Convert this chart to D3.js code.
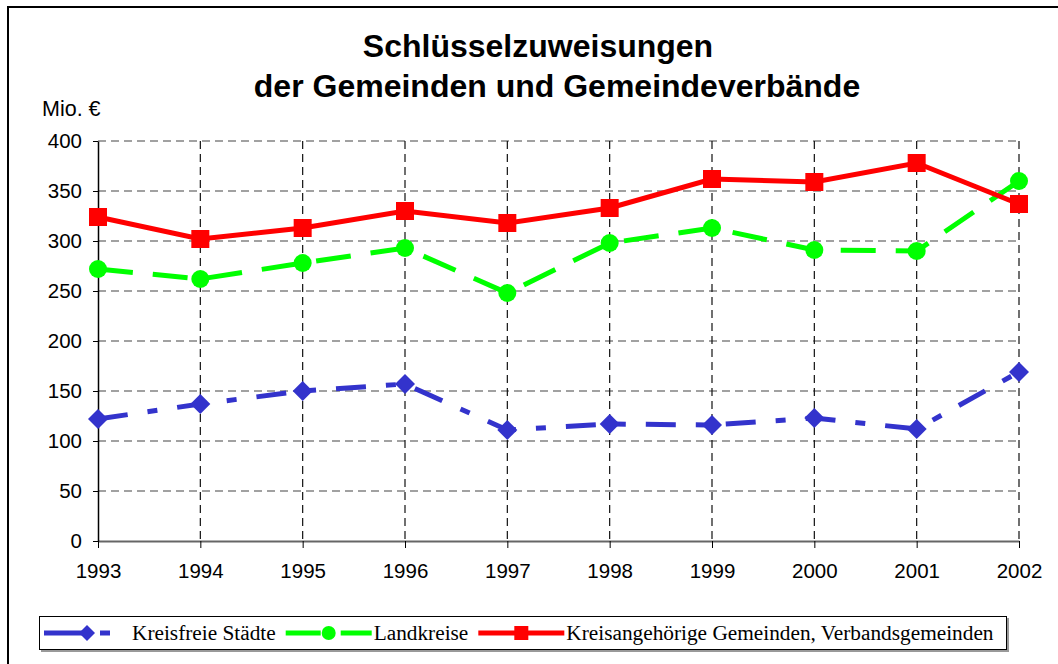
<!DOCTYPE html>
<html>
<head>
<meta charset="utf-8">
<script src="https://cdn.jsdelivr.net/npm/d3@7"></script>
<style>
  body { margin: 0; background: #fff; }
  svg { display: block; }
</style>
</head>
<body>
<div class="container"></div>
<script>
const years = [1993, 1994, 1995, 1996, 1997, 1998, 1999, 2000, 2001, 2002]
const kreisfreieStaedte = [122, 137, 150, 157, 111, 117, 116, 123, 112, 169]
const landkreise = [272, 262, 278, 293, 248, 298, 313, 291, 290, 360]
const kreisangehoerige = [324, 302, 313, 330, 318, 333, 362, 359, 378, 337]
const yTicks = [0, 50, 100, 150, 200, 250, 300, 350, 400]
const seriesNames = ['Kreisfreie Städte', 'Landkreise', 'Kreisangehörige Gemeinden, Verbandsgemeinden']

const w = 1058
const h = 664
const plotLeft = 98
const plotRight = 1019
const plotTop = 141
const plotBottom = 541

const series = [
  { name: seriesNames[0], values: kreisfreieStaedte, color: '#3333cc', dash: '30 20 10 20', marker: 'diamond' },
  { name: seriesNames[1], values: landkreise, color: '#00ff00', dash: '35 20', marker: 'circle' },
  { name: seriesNames[2], values: kreisangehoerige, color: '#ff0000', dash: null, marker: 'square' }
]

const svg = d3.select('.container')
  .append('svg')
  .attr('width', w)
  .attr('height', h)

// outer frame
svg.append('rect')
  .attr('x', 8).attr('y', 7)
  .attr('width', 1100).attr('height', 700)
  .attr('fill', 'none')
  .attr('stroke', '#000')
  .attr('stroke-width', 2)

const xScale = d3.scalePoint()
  .domain(years)
  .range([plotLeft, plotRight])

const yScale = d3.scaleLinear()
  .domain([0, 400])
  .range([plotBottom, plotTop])

// grid
svg.append('g')
  .selectAll('line')
  .data(yTicks.filter(d => d > 0))
  .join('line')
  .attr('x1', plotLeft).attr('x2', plotRight)
  .attr('y1', d => yScale(d)).attr('y2', d => yScale(d))
  .attr('stroke', '#444')
  .attr('stroke-width', 1.2)
  .attr('stroke-dasharray', '8 5')

svg.append('g')
  .selectAll('line')
  .data(years.slice(1))
  .join('line')
  .attr('x1', d => xScale(d)).attr('x2', d => xScale(d))
  .attr('y1', plotTop).attr('y2', plotBottom)
  .attr('stroke', '#111')
  .attr('stroke-width', 1.2)
  .attr('stroke-dasharray', '8 5')

const xAxis = d3.axisBottom(xScale)
  .tickSizeInner(7)
  .tickSizeOuter(0)
  .tickPadding(15)

const yAxis = d3.axisLeft(yScale)
  .tickValues(yTicks)
  .tickSizeInner(5)
  .tickSizeOuter(0)
  .tickPadding(11)

const gx = svg.append('g')
  .attr('transform', `translate(0, ${plotBottom})`)
  .call(xAxis)
gx.select('.domain').attr('stroke', '#666').attr('stroke-width', 2)
gx.selectAll('.tick line').attr('stroke', '#000')

const gy = svg.append('g')
  .attr('transform', `translate(${plotLeft}, 0)`)
  .call(yAxis)
gy.select('.domain').attr('stroke', '#000').attr('stroke-width', 1.5)
gy.selectAll('.tick line').attr('stroke', '#000')

svg.selectAll('.tick text')
  .attr('font-family', '"Liberation Sans", Arial, sans-serif')
  .attr('font-size', 20.5)
  .attr('fill', '#000')

// axis unit
svg.append('text')
  .text('Mio. €')
  .attr('x', 42)
  .attr('y', 116)
  .attr('font-family', '"Liberation Sans", Arial, sans-serif')
  .attr('font-size', 21.5)

// title
const title = svg.append('text')
  .attr('text-anchor', 'middle')
  .attr('font-family', '"Liberation Sans", Arial, sans-serif')
  .attr('font-weight', 'bold')
  .attr('font-size', 32)
title.append('tspan').attr('x', 538).attr('y', 57).text('Schlüsselzuweisungen')
title.append('tspan').attr('x', 557).attr('y', 97).text('der Gemeinden und Gemeindeverbände')

function drawMarker(g, type, x, y, size, color) {
  if (type === 'square') {
    g.append('rect')
      .attr('x', x - size / 2).attr('y', y - size / 2)
      .attr('width', size).attr('height', size)
      .attr('fill', color)
  } else if (type === 'circle') {
    g.append('circle')
      .attr('cx', x).attr('cy', y).attr('r', size / 2)
      .attr('fill', color)
  } else {
    const r = size / 2 + 1
    g.append('path')
      .attr('d', `M${x},${y - r}L${x + r},${y}L${x},${y + r}L${x - r},${y}Z`)
      .attr('fill', color)
  }
}

const line = d3.line()
  .x((d, i) => xScale(years[i]))
  .y(d => yScale(d))

series.forEach(s => {
  const g = svg.append('g')
  g.append('path')
    .datum(s.values)
    .attr('d', line)
    .attr('fill', 'none')
    .attr('stroke', s.color)
    .attr('stroke-width', 5)
    .attr('stroke-dasharray', s.dash)
  s.values.forEach((v, i) => drawMarker(g, s.marker, xScale(years[i]), yScale(v), 18, s.color))
})

// legend
const legend = svg.append('g')
legend.append('rect')
  .attr('x', 41).attr('y', 618)
  .attr('width', 968).attr('height', 34)
  .attr('fill', '#999')
legend.append('rect')
  .attr('x', 39.5).attr('y', 616.5)
  .attr('width', 967).attr('height', 33)
  .attr('fill', '#fff')
  .attr('stroke', '#000')
  .attr('stroke-width', 1)

let cx = 44
const ly = 633
series.forEach(s => {
  const g = legend.append('g')
  g.append('line')
    .attr('x1', cx).attr('x2', cx + 86)
    .attr('y1', ly).attr('y2', ly)
    .attr('stroke', s.color)
    .attr('stroke-width', 5)
    .attr('stroke-dasharray', s.marker === 'diamond' ? '40 16 10 30' : s.dash)
  drawMarker(g, s.marker, cx + 43, ly, 14, s.color)
  const t = g.append('text')
    .text(s.name)
    .attr('x', cx + 88)
    .attr('y', ly + 7)
    .attr('font-family', '"Liberation Serif", "Times New Roman", serif')
    .attr('font-size', 21.3)
  cx += 88 + t.node().getComputedTextLength() + 10
})
</script>
</body>
</html>
